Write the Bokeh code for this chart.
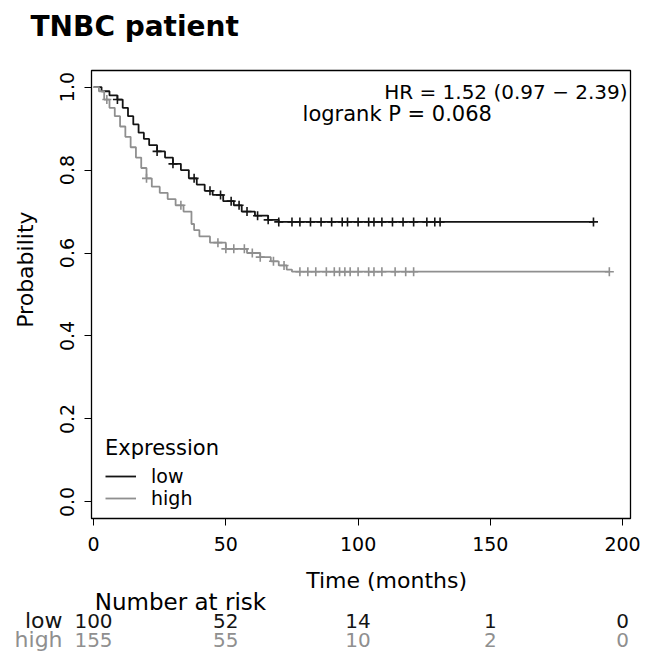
import numpy as np
from bokeh.plotting import figure
from bokeh.models import Range1d, Label, Legend, LegendItem, FixedTicker, NumeralTickFormatter
from bokeh.layouts import column, row
from bokeh.embed import file_html
from bokeh.resources import INLINE
from bokeh.core.properties import value

FONT = "DejaVu Sans"

# ---- data ----
low_times = [0, 3, 6, 9, 11, 13, 15, 17, 19, 21, 24, 27, 30, 33, 36, 39, 42, 45, 49, 53, 56, 61, 66, 70]
low_surv = [1.0, 0.99, 0.98, 0.97, 0.95, 0.93, 0.91, 0.89, 0.875, 0.86, 0.845, 0.83, 0.815, 0.80, 0.78, 0.765,
            0.75, 0.74, 0.725, 0.715, 0.70, 0.69, 0.68, 0.675]
low_end = 189
high_times = [0, 2, 4, 6, 8, 10, 12, 14, 16, 18, 20, 22, 25, 28, 31, 34, 37, 38, 40, 44, 50, 58, 63, 67, 70, 73, 75]
high_surv = [1.0, 0.99, 0.97, 0.95, 0.93, 0.905, 0.88, 0.855, 0.83, 0.805, 0.78, 0.76, 0.745, 0.73, 0.715, 0.70,
             0.67, 0.655, 0.64, 0.625, 0.61, 0.60, 0.59, 0.58, 0.57, 0.56, 0.555]
high_end = 195
low_censor = [9, 24, 30, 38, 44, 48, 52, 55, 58, 62, 66, 70, 75, 78, 82, 86, 90, 94, 96, 100, 104, 106, 109,
              113, 117, 121, 126, 129, 131, 189]
high_censor = [5, 20, 33, 47, 50, 53, 57, 60, 63, 68, 72, 78, 81, 84, 88, 91, 93, 95, 97, 100, 104, 106, 109,
               114, 118, 121, 195]
groups = ["low", "high"]
risk_times = [0, 50, 100, 150, 200]
risk_low = [100, 52, 14, 1, 0]
risk_high = [155, 55, 10, 2, 0]
x_ticks = [0, 50, 100, 150, 200]
y_ticks = [0.0, 0.2, 0.4, 0.6, 0.8, 1.0]
title_text = "TNBC patient"
hr_text = "HR = 1.52 (0.97 \u2212 2.39)"
p_text = "logrank P = 0.068"

LOW_COLOR = "#141414"
HIGH_COLOR = "#8f8f8f"


def surv_at(times, surv, t):
    i = np.searchsorted(np.asarray(times), t, side="right") - 1
    return [surv[k] for k in i]


def blank(fig):
    fig.xgrid.visible = False
    fig.ygrid.visible = False
    fig.outline_line_color = None
    fig.background_fill_color = "white"
    fig.border_fill_color = "white"
    fig.frame_align = False


# ---- title strip ----
tf = figure(width=650, height=56, x_range=Range1d(0, 650), y_range=Range1d(56, 0),
            output_backend="svg", toolbar_location=None, x_axis_type=None, y_axis_type=None, min_border=0)
blank(tf)
tf.text(x=[30], y=[26], text=[title_text], text_align="left", text_baseline="middle",
        text_font=value(FONT), text_font_size="28px", text_font_style="bold", text_color="black")

# ---- main survival plot ----
p = figure(frame_width=539, frame_height=448, x_range=Range1d(-0.8, 203), y_range=Range1d(-0.04, 1.04),
           output_backend="svg", toolbar_location=None,
           min_border_left=46, min_border_right=20, min_border_top=14, min_border_bottom=42)
p.frame_align = False
p.xgrid.visible = False
p.ygrid.visible = False
p.outline_line_color = "black"
p.outline_line_width = 1.3
p.background_fill_color = "white"
p.border_fill_color = "white"

for ax in (p.xaxis[0], p.yaxis[0]):
    ax.major_tick_in = 0
    ax.major_tick_out = 7
    ax.minor_tick_line_color = None
    ax.axis_line_color = "black"
    ax.major_label_text_font = FONT
    ax.major_label_text_font_size = "19px"
    ax.major_label_text_color = "black"
p.xaxis.ticker = FixedTicker(ticks=x_ticks)
p.yaxis.ticker = FixedTicker(ticks=y_ticks)
p.yaxis.formatter = NumeralTickFormatter(format="0.0")
p.xaxis.major_label_standoff = 11
p.yaxis.major_label_orientation = "vertical"
p.yaxis.major_label_standoff = 10

lx = list(low_times) + [low_end]
ly = list(low_surv) + [low_surv[-1]]
hx = list(high_times) + [high_end]
hy = list(high_surv) + [high_surv[-1]]
r_low = p.step(lx, ly, mode="after", line_color=LOW_COLOR, line_width=1.8)
r_high = p.step(hx, hy, mode="after", line_color=HIGH_COLOR, line_width=1.8)
p.scatter(low_censor, surv_at(low_times, low_surv, low_censor), marker="cross", size=9,
          line_color=LOW_COLOR, line_width=1.6)
p.scatter(high_censor, surv_at(high_times, high_surv, high_censor), marker="cross", size=9,
          line_color=HIGH_COLOR, line_width=1.6)

legend = Legend(items=[LegendItem(label=groups[0], renderers=[r_low]),
                       LegendItem(label=groups[1], renderers=[r_high])],
                title="Expression", location=(12, 7))
legend.title_text_font = FONT
legend.title_text_font_size = "21px"
legend.title_text_font_style = "normal"
legend.title_text_color = "black"
legend.label_text_font = FONT
legend.label_text_font_size = "19px"
legend.label_text_color = "black"
legend.label_height = 14
legend.glyph_height = 14
legend.glyph_width = 31
legend.label_standoff = 15
legend.spacing = 0
legend.padding = 2
legend.margin = 0
legend.title_standoff = 5
legend.background_fill_alpha = 0
legend.border_line_alpha = 0
p.add_layout(legend)

p.add_layout(Label(x=201.9, y=0.987, text=hr_text, text_align="right", text_baseline="middle",
                   text_font=FONT, text_font_size="20px", text_color="black"))
p.add_layout(Label(x=79, y=0.936, text=p_text, text_align="left", text_baseline="middle",
                   text_font=FONT, text_font_size="21px", text_color="black"))

# ---- y axis title strip (same probability scale as the main frame) ----
py = figure(width=45, height=504, x_range=Range1d(0, 1), y_range=Range1d(-0.1413, 1.0738),
            output_backend="svg", toolbar_location=None, x_axis_type=None, y_axis_type=None, min_border=0)
blank(py)
py.text(x=[0.556], y=[0.56], text=["Probability"], angle=np.pi / 2, text_align="center",
        text_baseline="middle", text_font=value(FONT), text_font_size="22px", text_color="black")

# ---- time title and number-at-risk table (same time scale as the main axis) ----
r = figure(width=650, height=98, x_range=Range1d(-35.16, 210.59), y_range=Range1d(3.0, -2.158),
           output_backend="svg", toolbar_location=None, x_axis_type=None, y_axis_type=None, min_border=0)
blank(r)
r.text(x=[110.8], y=[-1.105], text=["Time (months)"], text_align="center", text_baseline="middle",
       text_font=value(FONT), text_font_size="22px", text_color="black")
r.text(x=[0.5], y=[0], text=["Number at risk"], text_align="left", text_baseline="middle",
       text_font=value(FONT), text_font_size="23px", text_color="black")
r.text(x=[-11.7, -11.7], y=[1, 2], text=groups, text_align="right", text_baseline="middle",
       text_font=value(FONT), text_font_size="22px", text_color=[LOW_COLOR, HIGH_COLOR])
r.text(x=risk_times, y=[1] * len(risk_times), text=[str(v) for v in risk_low], text_align="center",
       text_baseline="middle", text_font=value(FONT), text_font_size="20px", text_color=LOW_COLOR)
r.text(x=risk_times, y=[2] * len(risk_times), text=[str(v) for v in risk_high], text_align="center",
       text_baseline="middle", text_font=value(FONT), text_font_size="20px", text_color=HIGH_COLOR)

layout = column(tf, row(py, p, spacing=0), r, spacing=0)
open("out.html", "w").write(file_html(layout, INLINE))
